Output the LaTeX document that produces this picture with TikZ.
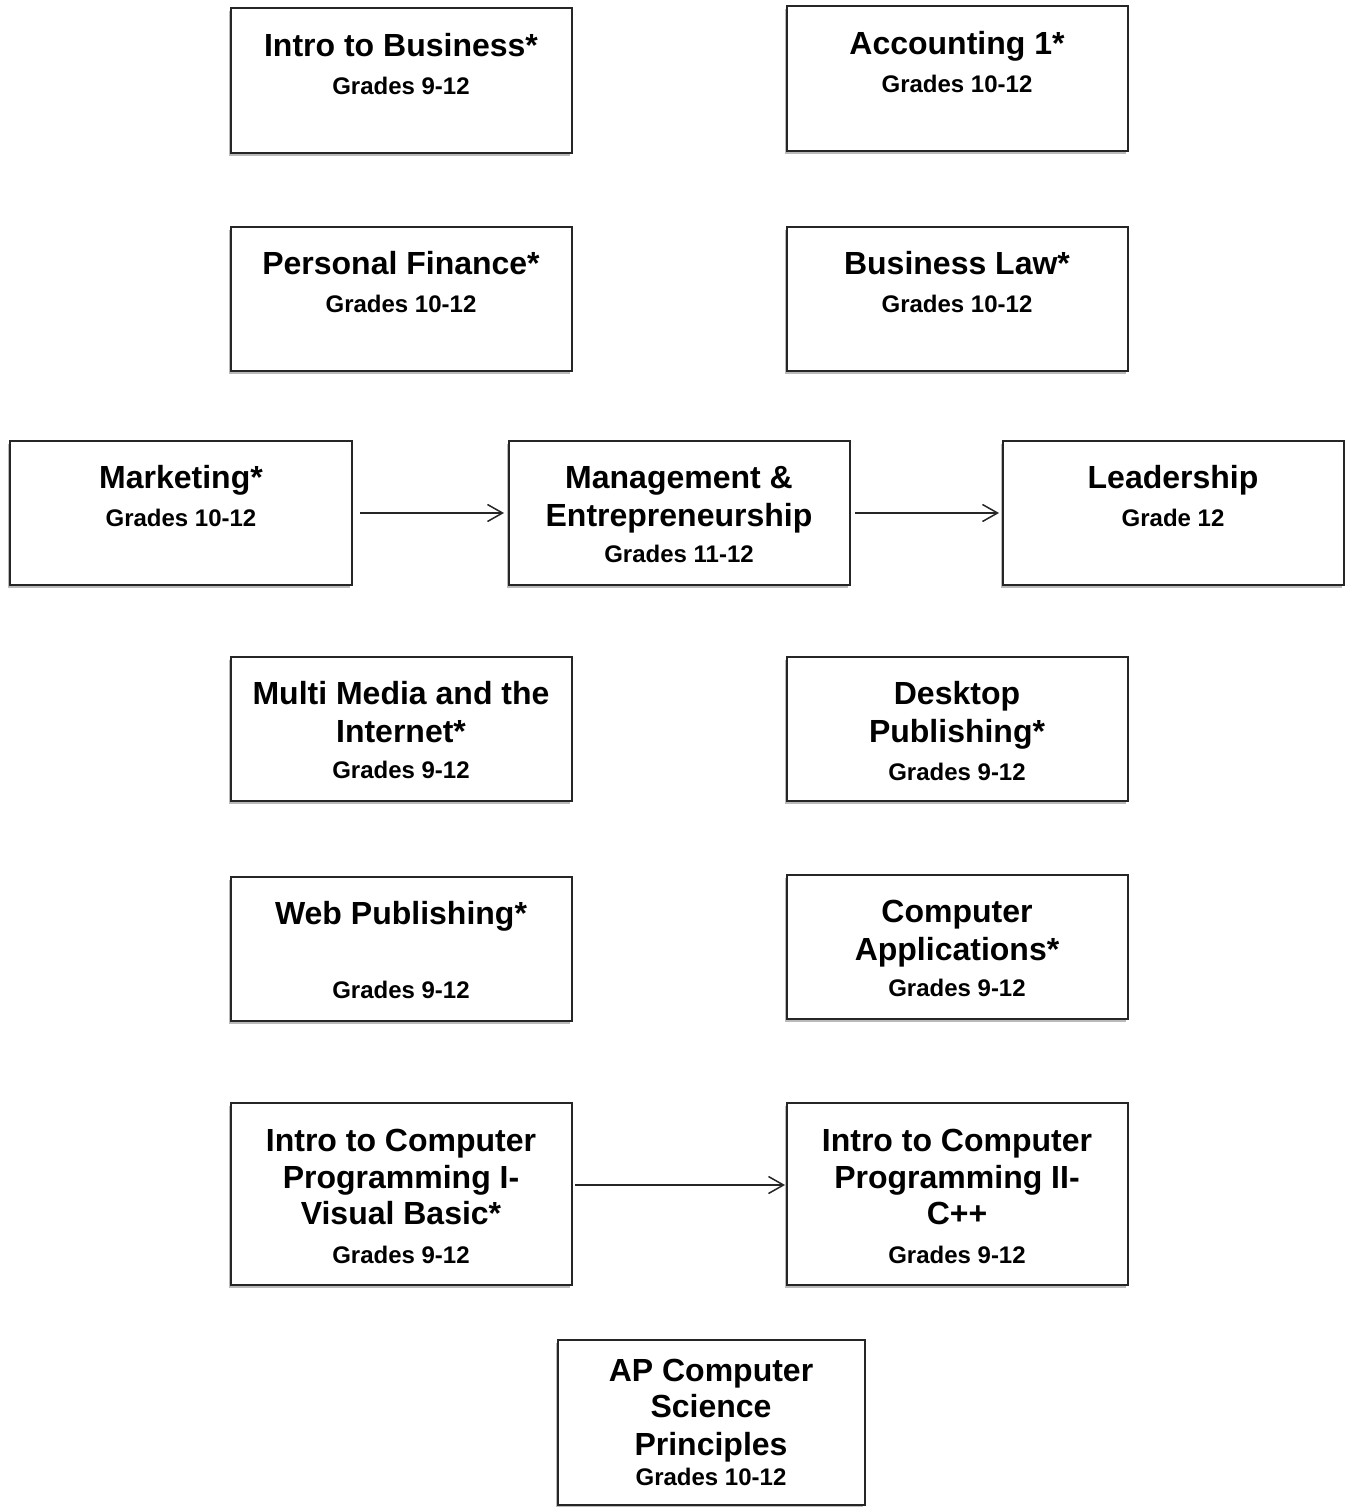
\documentclass[tikz,border=0pt]{standalone}
\usepackage{fontspec}
\setmainfont{Liberation Sans}
\usetikzlibrary{arrows.meta,shadows}
\begin{document}
\begin{tikzpicture}[x=0.5pt,y=-0.5pt,
  box/.style={draw=black!85, line width=1pt, fill=white, inner sep=0pt,
    drop shadow={shadow xshift=-1.2pt, shadow yshift=-1.5pt, opacity=0.45, fill=black!60}},
  ttl/.style={font=\fontsize{16}{19}\selectfont\bfseries, inner sep=0pt, text height=11.5pt, text depth=0pt},
  grd/.style={font=\fontsize{12}{14}\selectfont\bfseries, inner sep=0pt, text height=8.6pt, text depth=0pt},
  conn/.style={line width=0.75pt, black!85, -{Straight Barb[length=7.5pt,width=8.5pt,line width=0.75pt]}}]
\useasboundingbox (0,0) rectangle (1346,1507);
% boxes
\node[box, minimum width=170.5pt, minimum height=72.5pt] (ib) at (401.5,80.5) {};
\node[box, minimum width=170.5pt, minimum height=72.5pt] (ac) at (957.5,78.5) {};
\node[box, minimum width=170.5pt, minimum height=72pt] (pf) at (401.5,299) {};
\node[box, minimum width=170.5pt, minimum height=72pt] (bl) at (957.5,299) {};
\node[box, minimum width=171pt, minimum height=72pt] (mk) at (181,513) {};
\node[box, minimum width=170.5pt, minimum height=72pt] (mg) at (679.5,513) {};
\node[box, minimum width=170.5pt, minimum height=72pt] (ld) at (1173.5,513) {};
\node[box, minimum width=170.5pt, minimum height=72pt] (mm) at (401.5,729) {};
\node[box, minimum width=170.5pt, minimum height=72pt] (dp) at (957.5,729) {};
\node[box, minimum width=170.5pt, minimum height=72pt] (wp) at (401.5,949) {};
\node[box, minimum width=170.5pt, minimum height=72pt] (ca) at (957.5,947) {};
\node[box, minimum width=170.5pt, minimum height=91pt] (p1) at (401.5,1194) {};
\node[box, minimum width=170.5pt, minimum height=91pt] (p2) at (957.5,1194) {};
\node[box, minimum width=153.5pt, minimum height=82.5pt] (ap) at (711.5,1422.5) {};
% texts
\node[ttl] (ibt) at (401,45) {Intro to Business*};
\node[grd] (ibg) at (401,86) {Grades 9-12};
\node[ttl] (act) at (957,43) {Accounting 1*};
\node[grd] (acg) at (957,84) {Grades 10-12};
\node[ttl] (pft) at (401,263) {Personal Finance*};
\node[grd] (pfg) at (401,304) {Grades 10-12};
\node[ttl] (blt) at (957,263) {Business Law*};
\node[grd] (blg) at (957,304) {Grades 10-12};
\node[ttl] (mkt) at (181,477) {Marketing*};
\node[grd] (mkg) at (181,518) {Grades 10-12};
\node[ttl] (mgt1) at (679,477) {Management \&};
\node[ttl] (mgt2) at (679,515) {Entrepreneurship};
\node[grd] (mgg) at (679,554) {Grades 11-12};
\node[ttl] (ldt) at (1173,477) {Leadership};
\node[grd] (ldg) at (1173,518) {Grade 12};
\node[ttl] (mmt1) at (401,693) {Multi Media and the};
\node[ttl] (mmt2) at (401,731) {Internet*};
\node[grd] (mmg) at (401,770) {Grades 9-12};
\node[ttl] (dpt1) at (957,693) {Desktop};
\node[ttl] (dpt2) at (957,731) {Publishing*};
\node[grd] (dpg) at (957,772) {Grades 9-12};
\node[ttl] (wpt) at (401,913) {Web Publishing*};
\node[grd] (wpg) at (401,990) {Grades 9-12};
\node[ttl] (cat1) at (957,911) {Computer};
\node[ttl] (cat2) at (957,949) {Applications*};
\node[grd] (cag) at (957,988) {Grades 9-12};
\node[ttl] (p1t1) at (401,1140) {Intro to Computer};
\node[ttl] (p1t2) at (401,1177) {Programming I-};
\node[ttl] (p1t3) at (401,1213) {Visual Basic*};
\node[grd] (p1g) at (401,1255) {Grades 9-12};
\node[ttl] (p2t1) at (957,1140) {Intro to Computer};
\node[ttl] (p2t2) at (957,1177) {Programming II-};
\node[ttl] (p2t3) at (957,1213) {C++};
\node[grd] (p2g) at (957,1255) {Grades 9-12};
\node[ttl] (apt1) at (711,1370) {AP Computer};
\node[ttl] (apt2) at (711,1406) {Science};
\node[ttl] (apt3) at (711,1444) {Principles};
\node[grd] (apg) at (711,1477) {Grades 10-12};
% connectors
\draw[conn, shorten <=3.5pt, shorten >=2pt] (mk.east) -- (mg.west);
\draw[conn, shorten <=2pt, shorten >=1.5pt] (mg.east) -- (ld.west);
\draw[conn, shorten <=1pt, shorten >=0.5pt] ([yshift=4.5pt]p1.east) -- ([yshift=4.5pt]p2.west);
\end{tikzpicture}
\end{document}
